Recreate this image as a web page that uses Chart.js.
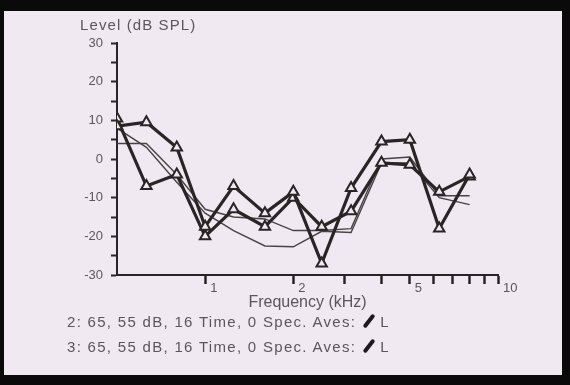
<!DOCTYPE html>
<html>
<head>
<meta charset="utf-8">
<script src="https://cdn.jsdelivr.net/npm/chart.js@4.4.0/dist/chart.umd.min.js"></script>
<style>
    html, body { margin: 0; padding: 0; background: #0b0a0b; }
    #frame { position: absolute; left: 0; top: 0; width: 570px; height: 385px; overflow: hidden; background: #0b0a0b; }
    #paper { position: absolute; left: 4px; top: 11px; width: 558px; height: 364px; background: #f0e9f1; }
    #myChart { position: absolute; left: 0; top: 0; }
    .txt { position: absolute; font-family: "Liberation Sans", Arial, sans-serif; color: #5d5558; white-space: nowrap; }
    #ytitle { left: 80px; top: 16px; font-size: 15px; letter-spacing: 1.1px; }
    .leyenda { left: 67px; font-size: 15px; letter-spacing: 1.3px; }
    .marca { display: inline-block; width: 4px; height: 16px; background: #1e1a1c; border-radius: 2px; transform: rotate(38deg); margin: 0 9px 0 11px; vertical-align: -2px; }
</style>
</head>
<body>
<div id="frame">
    <div id="paper"></div>
    <canvas id="myChart" width="570" height="385"></canvas>
    <div class="txt" id="ytitle">Level (dB SPL)</div>
    <div class="txt leyenda" style="top:313px">2: 65, 55 dB, 16 Time, 0 Spec. Aves:<span class="marca"></span>L</div>
    <div class="txt leyenda" style="top:338px">3: 65, 55 dB, 16 Time, 0 Spec. Aves:<span class="marca"></span>L</div>
</div>
<script>
// frecuencias de tercio de octava (kHz)
const freqs = [0.5, 0.63, 0.8, 1, 1.25, 1.6, 2, 2.5, 3.15, 4, 5, 6.3, 8]

// curvas gruesas con triangulos
const traza2 = [8.5, 9.5, 3, -17.5, -7, -14, -8.5, -27, -7.5, 4.5, 5, -18, -4]
const traza3 = [10.5, -7, -4, -20, -13, -17.5, -10, -17.5, -13.5, -1, -1.5, -8.5, -4.5]

// curvas finas sin marcas
const fina2 = [4, 4, -4, -13, -15, -15.5, -18.5, -18.5, -18, 0, 0.5, -9.5, -9.5]
const fina3 = [8, 3, -6, -14, -18.5, -22.5, -22.7, -18.7, -19, -1, -1, -10, -11.8]

const xTicks = [1, 2, 3, 4, 5, 6, 7, 8, 9, 10]
const xLabels = [1, 2, 5, 10]
const yLabels = [-30, -20, -10, 0, 10, 20, 30]

const puntos = (vals) => freqs.map((f, i) => ({ x: f, y: vals[i] }))

const tinta = '#2a2426'
const papel = '#f0e9f1'
const gris = '#5d5558'

const gruesa = (vals) => ({
    data: puntos(vals),
    borderColor: tinta,
    borderWidth: 3.2,
    pointStyle: 'triangle',
    pointRadius: 6,
    pointBackgroundColor: papel,
    pointBorderColor: tinta,
    pointBorderWidth: 2,
    tension: 0
})

const fina = (vals) => ({
    data: puntos(vals),
    borderColor: '#4a4245',
    borderWidth: 1.4,
    pointRadius: 0,
    tension: 0
})

var ctx = document.getElementById('myChart')
var myChart = new Chart(ctx, {
    type: 'line',
    data: {
        datasets: [gruesa(traza2), gruesa(traza3), fina(fina2), fina(fina3)]
    },
    options: {
        responsive: false,
        animation: false,
        layout: { padding: { left: 77, top: 43, right: 72, bottom: 73 } },
        plugins: { legend: { display: false }, tooltip: { enabled: false } },
        scales: {
            x: {
                type: 'logarithmic',
                min: 0.5,
                max: 10,
                afterBuildTicks: (s) => { s.ticks = xTicks.map(v => ({ value: v })) },
                afterFit: (s) => { s.height = 37 },
                border: { display: true, color: tinta, width: 2 },
                grid: { drawOnChartArea: false, drawTicks: true, tickLength: 9, tickWidth: 2.5, tickColor: tinta },
                ticks: {
                    align: 'start',
                    labelOffset: 5,
                    padding: -3,
                    maxRotation: 0,
                    autoSkip: false,
                    color: gris,
                    font: { family: 'Liberation Sans', size: 13 },
                    callback: (v) => xLabels.includes(v) ? String(v) : ''
                },
                title: {
                    display: true,
                    text: 'Frequency (kHz)',
                    color: gris,
                    font: { family: 'Liberation Sans', size: 16 },
                    padding: 0
                }
            },
            y: {
                min: -30,
                max: 30,
                afterFit: (s) => { s.width = 40 },
                border: { display: true, color: tinta, width: 2 },
                grid: { drawOnChartArea: false, drawTicks: true, tickLength: 6, tickWidth: 2, tickColor: tinta },
                ticks: {
                    stepSize: 5,
                    padding: 8,
                    color: gris,
                    font: { family: 'Liberation Sans', size: 13 },
                    callback: (v) => yLabels.includes(v) ? String(v) : ''
                }
            }
        }
    }
})
</script>
</body>
</html>
